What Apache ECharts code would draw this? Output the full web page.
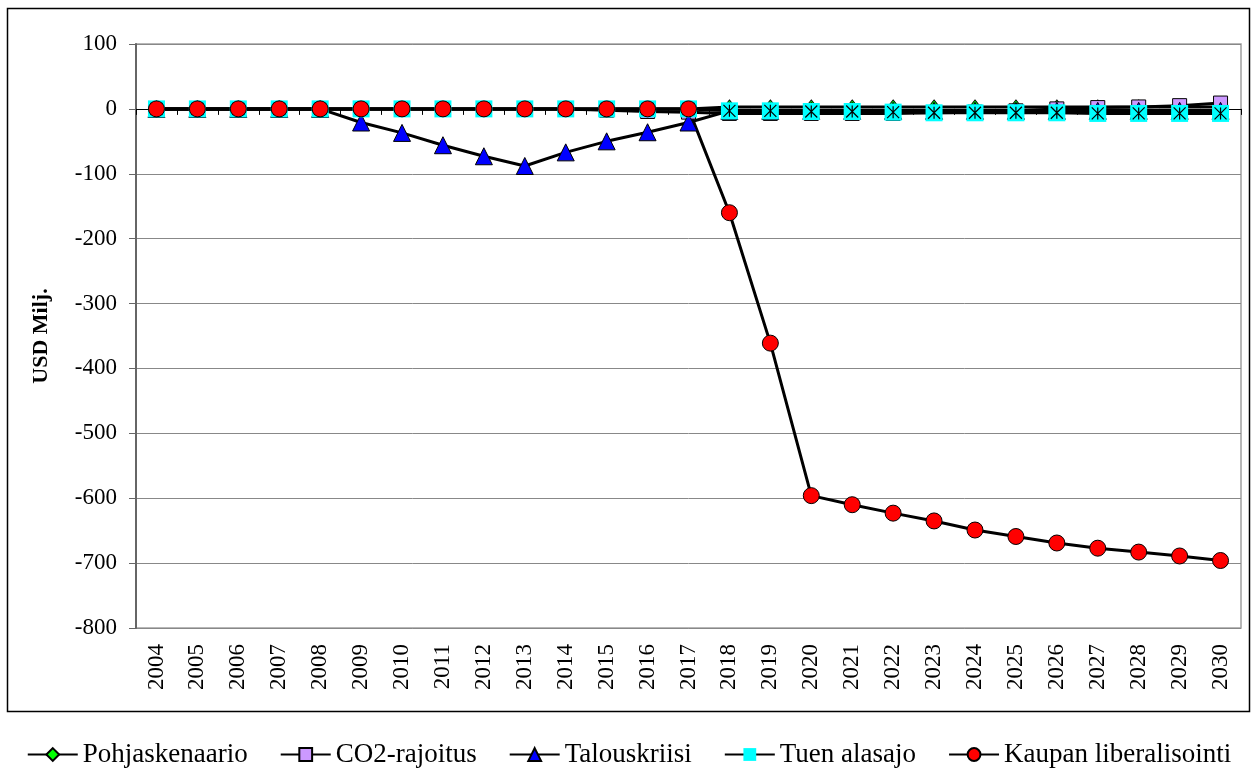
<!DOCTYPE html>
<html>
<head>
<meta charset="utf-8">
<script src="https://cdn.jsdelivr.net/npm/echarts@6/dist/echarts.min.js"></script>
<style>
  html, body { margin: 0; padding: 0; background: #fff; }
  #chart { width: 1258px; height: 772px; }
</style>
</head>
<body>
<div id="chart"></div>
<script>
// Years on the category axis
const years = ['2004','2005','2006','2007','2008','2009','2010','2011','2012','2013','2014','2015','2016','2017',
               '2018','2019','2020','2021','2022','2023','2024','2025','2026','2027','2028','2029','2030'];

// Scenario values, USD Milj.
const pohjaskenaario = [0,0,0,0,0,0,0,0,0,0,0,0,0,0, 3,3,3,3,3,3,3,3,3,3,3,3,3];
const co2Rajoitus    = [0,0,0,0,0,0,0,0,0,0,0,-2,-4,-5, -7,-7,-7,-7,-7,-6,-5,-3,0,2,3,5,9];
const talouskriisi   = [0,0,0,0,0,-21,-37,-56,-73,-88,-67,-50,-36,-21, -3,-3,-3,-3,-3,-3,-3,-3,-3,-3,-3,-3,-3];
const tuenAlasajo    = [0,0,0,0,0,0,0,0,0,0,0,0,0,0, -3,-3,-4,-4,-5,-6,-6,-6,-6,-7,-7,-7,-7];
const kaupanLiberalisointi = [0,0,0,0,0,0,0,0,0,0,0,0,0,0, -160,-361,-596,-610,-623,-635,-649,-659,-669,-677,-683,-689,-696];

// Y axis range
const yMin = -800, yMax = 100, yStep = 100;

const serif = "'Liberation Serif', 'Times New Roman', serif";
const asterisk = 'path://M0,0 L10,10 M10,0 L0,10 M5,0 L5,10';

function lineSeries(name, data, symbol, size, fill) {
  return {
    name: name, type: 'line', data: data,
    symbol: symbol, symbolSize: size, showAllSymbol: true,
    lineStyle: { color: '#000', width: 3 },
    itemStyle: { color: fill, borderColor: '#000', borderWidth: 1 },
    emphasis: { disabled: true }, animation: false
  };
}

const chart = echarts.init(document.getElementById('chart'), null, { renderer: 'canvas' });

const tuen = lineSeries('Tuen alasajo', tuenAlasajo, 'rect', 17, '#00ffff');
tuen.itemStyle.borderWidth = 0;

chart.setOption({
  backgroundColor: '#fff',
  animation: false,
  graphic: [{
    type: 'rect', silent: true, z: -10,
    shape: { x: 7.5, y: 8.5, width: 1242, height: 703 },
    style: { fill: 'none', stroke: '#000', lineWidth: 1.5 }
  }],
  grid: {
    left: 136, right: 17, top: 44, bottom: 144,
    show: true, borderColor: '#a0a0a0', borderWidth: 1.5
  },
  legend: {
    data: ['Pohjaskenaario', 'CO2-rajoitus', 'Talouskriisi', 'Tuen alasajo', 'Kaupan liberalisointi'],
    left: 'center', top: 736,
    itemWidth: 50, itemHeight: 16, itemGap: 32,
    textStyle: { fontFamily: serif, fontSize: 27, color: '#000' }
  },
  xAxis: [{
    type: 'category', data: years, boundaryGap: true,
    axisLine: { onZero: true, lineStyle: { color: '#000', width: 1 } },
    axisTick: { show: true, length: 6, lineStyle: { color: '#000' } },
    axisLabel: { show: false },
    splitLine: { show: false }
  }, {
    type: 'category', data: years, boundaryGap: true, position: 'bottom',
    axisLine: { show: false, onZero: false },
    axisTick: { show: false },
    axisLabel: {
      interval: 0, rotate: 90, margin: 16,
      fontFamily: serif, fontSize: 23, color: '#000'
    }
  }],
  yAxis: {
    type: 'value', min: yMin, max: yMax, interval: yStep,
    name: 'USD Milj.', nameLocation: 'middle', nameGap: 84, nameRotate: 90,
    nameTextStyle: { fontFamily: serif, fontSize: 22, fontWeight: 'bold', color: '#000' },
    axisLine: { show: true, lineStyle: { color: '#666', width: 2 } },
    axisTick: { show: true, length: 7, lineStyle: { color: '#666' } },
    axisLabel: { margin: 19, fontFamily: serif, fontSize: 23, color: '#000' },
    splitLine: { show: true, lineStyle: { color: '#888', width: 1 } }
  },
  series: [
    lineSeries('Pohjaskenaario', pohjaskenaario, 'diamond', [11, 14], '#00ff00'),
    lineSeries('CO2-rajoitus', co2Rajoitus, 'rect', 14, '#cc99ff'),
    lineSeries('Talouskriisi', talouskriisi, 'triangle', 17, '#0000ff'),
    tuen,
    {
      // asterisk drawn over the cyan squares of "Tuen alasajo"
      name: 'Tuen alasajo', type: 'line', data: tuenAlasajo,
      symbol: asterisk, symbolSize: 12, showAllSymbol: true,
      lineStyle: { opacity: 0, width: 0 },
      itemStyle: { color: 'transparent', borderColor: '#000', borderWidth: 1.2 },
      emphasis: { disabled: true }, animation: false
    },
    lineSeries('Kaupan liberalisointi', kaupanLiberalisointi, 'circle', 16, '#ff0000')
  ]
});
</script>
</body>
</html>
